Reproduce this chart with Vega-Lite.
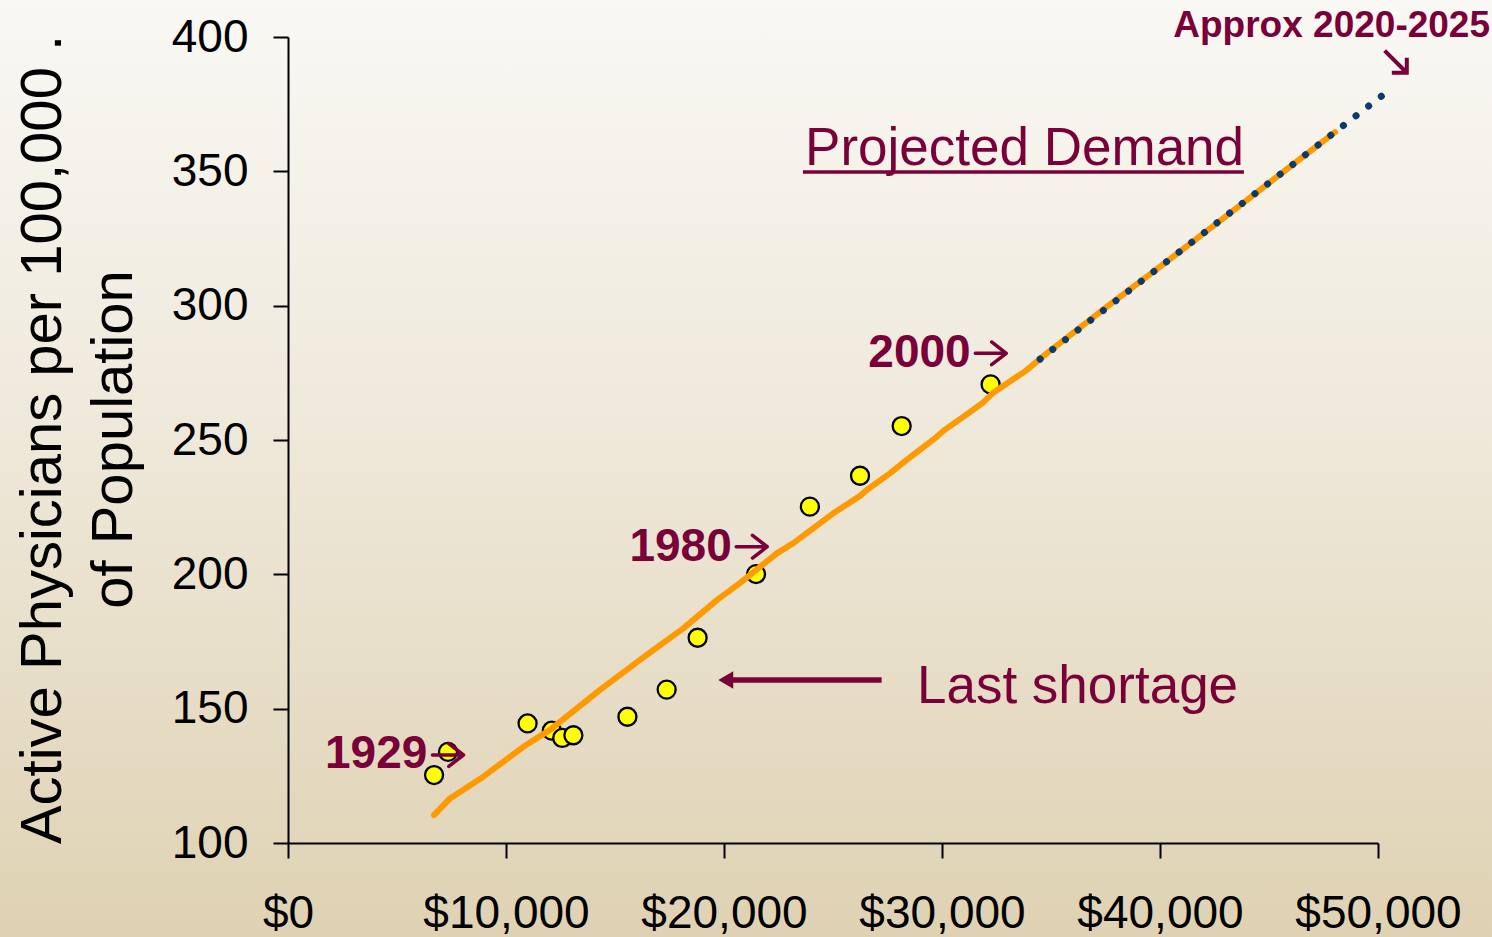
{
  "$schema": "https://vega.github.io/schema/vega-lite/v6.json",
  "width": 1090,
  "height": 806,
  "autosize": {"type": "none"},
  "padding": {"left": 288, "top": 37, "right": 114, "bottom": 94},
  "background": "#EEE8D8",
  "config": {"view": {"stroke": null}, "font": "Liberation Sans"},
  "datasets": {
    "observed": [
      {"x": 6700, "y": 125.3},
      {"x": 7340, "y": 133.9},
      {"x": 10990, "y": 144.5},
      {"x": 12100, "y": 141.8},
      {"x": 12580, "y": 139.1},
      {"x": 13090, "y": 140.1},
      {"x": 15570, "y": 147.0},
      {"x": 17370, "y": 157.1},
      {"x": 18790, "y": 176.4},
      {"x": 21470, "y": 200.1},
      {"x": 23940, "y": 225.2},
      {"x": 26240, "y": 236.7},
      {"x": 28150, "y": 255.2},
      {"x": 32230, "y": 270.7}
    ],
    "trend": [
      {"x": 6697, "y": 110.4},
      {"x": 7431, "y": 116.6},
      {"x": 8960, "y": 124.7},
      {"x": 10794, "y": 135.8},
      {"x": 12018, "y": 142.1},
      {"x": 14312, "y": 157.0},
      {"x": 16454, "y": 170.0},
      {"x": 18133, "y": 179.9},
      {"x": 19700, "y": 190.6},
      {"x": 20730, "y": 196.7},
      {"x": 22420, "y": 207.8},
      {"x": 23180, "y": 211.6},
      {"x": 25010, "y": 222.7},
      {"x": 26240, "y": 229.2},
      {"x": 26550, "y": 231.4},
      {"x": 27610, "y": 237.6},
      {"x": 28380, "y": 242.6},
      {"x": 29760, "y": 251.2},
      {"x": 30060, "y": 253.4},
      {"x": 31130, "y": 259.5},
      {"x": 31890, "y": 264.0},
      {"x": 32350, "y": 267.6},
      {"x": 33880, "y": 276.0},
      {"x": 34950, "y": 283.2},
      {"x": 37600, "y": 299.8},
      {"x": 40310, "y": 316.4},
      {"x": 42600, "y": 330.6},
      {"x": 44890, "y": 345.0},
      {"x": 48030, "y": 364.6}
    ],
    "projection": [
      {"x": 34500, "y": 280.1},
      {"x": 50180, "y": 378.1}
    ],
    "years": [
      {"x": 1697, "y": 127.8, "label": "1929"},
      {"x": 15660, "y": 205.07, "label": "1980"},
      {"x": 26620, "y": 277.3, "label": "2000"}
    ],
    "yearArrows": [
      {"x": 7339, "y": 132.75},
      {"x": 21271, "y": 210.28},
      {"x": 32239, "y": 282.27}
    ]
  },
  "layer": [
    {
      "data": {"values": [{"part": "background"}]},
      "mark": {
        "type": "rect",
        "fill": {
          "gradient": "linear",
          "x1": 0, "y1": 0, "x2": 0, "y2": 1,
          "stops": [
            {"offset": 0, "color": "#F9F8F4"},
            {"offset": 0.45, "color": "#EFE9DB"},
            {"offset": 1, "color": "#DFD2B3"}
          ]
        }
      },
      "encoding": {
        "x": {"datum": -13211, "type": "quantitative", "scale": {"domain": [0, 50000], "nice": false, "zero": false}, "title": null},
        "x2": {"datum": 55229},
        "y": {"datum": 413.8, "type": "quantitative", "scale": {"domain": [100, 400], "nice": false, "zero": false}, "title": ["Active Physicians per 100,000  .", "of Population"]},
        "y2": {"datum": 65.0}
      }
    },
    {
      "data": {"name": "observed"},
      "mark": {"type": "circle", "size": 324, "fill": "#FFFF00", "stroke": "#000000", "strokeWidth": 2.3, "opacity": 1},
      "encoding": {
        "x": {
          "field": "x",
          "type": "quantitative",
          "scale": {"domain": [0, 50000], "nice": false, "zero": false},
          "title": null,
          "axis": {
            "title": null,
            "values": [0, 10000, 20000, 30000, 40000, 50000],
            "format": "$,.0f",
            "grid": false,
            "domainColor": "#000000",
            "domainWidth": 2,
            "tickColor": "#000000",
            "tickWidth": 2,
            "tickSize": 15,
            "labelFont": "Liberation Sans",
            "labelFontSize": 46,
            "labelColor": "#000000",
            "labelPadding": 33,
            "labelFlush": false,
            "labelOverlap": false,
            "zindex": 1
          }
        },
        "y": {
          "field": "y",
          "type": "quantitative",
          "scale": {"domain": [100, 400], "nice": false, "zero": false},
          "title": ["Active Physicians per 100,000  .", "of Population"],
          "axis": {
            "title": ["Active Physicians per 100,000  .", "of Population"],
            "titleFont": "Liberation Sans",
            "titleFontSize": 58,
            "titleFontWeight": "normal",
            "titleColor": "#000000",
            "titleAngle": -90,
            "titleAlign": "center",
            "titleBaseline": "alphabetic",
            "titleLineHeight": 71,
            "titleX": -228,
            "titleY": 402,
            "values": [100, 150, 200, 250, 300, 350, 400],
            "grid": false,
            "domainColor": "#000000",
            "domainWidth": 2,
            "tickColor": "#000000",
            "tickWidth": 2,
            "tickSize": 15,
            "labelFont": "Liberation Sans",
            "labelFontSize": 46,
            "labelColor": "#000000",
            "labelPadding": 25,
            "labelFlush": false,
            "labelOverlap": false,
            "zindex": 1
          }
        }
      }
    },
    {
      "data": {"name": "trend"},
      "mark": {"type": "line", "color": "#FF9900", "strokeWidth": 6, "strokeCap": "round", "strokeJoin": "round"},
      "encoding": {
        "x": {"field": "x", "type": "quantitative", "scale": {"domain": [0, 50000], "nice": false, "zero": false}, "title": null},
        "y": {"field": "y", "type": "quantitative", "scale": {"domain": [100, 400], "nice": false, "zero": false}, "title": ["Active Physicians per 100,000  .", "of Population"]}
      }
    },
    {
      "data": {"name": "projection"},
      "mark": {"type": "line", "color": "#0B3B6B", "strokeWidth": 7, "strokeCap": "round", "strokeDash": [0.1, 15.85]},
      "encoding": {
        "x": {"field": "x", "type": "quantitative", "scale": {"domain": [0, 50000], "nice": false, "zero": false}, "title": null},
        "y": {"field": "y", "type": "quantitative", "scale": {"domain": [100, 400], "nice": false, "zero": false}, "title": ["Active Physicians per 100,000  .", "of Population"]}
      }
    },
    {
      "data": {"name": "years"},
      "mark": {"type": "text", "font": "Liberation Sans", "fontSize": 46, "fontWeight": "bold", "color": "#7A0039", "align": "left", "baseline": "alphabetic"},
      "encoding": {
        "x": {"field": "x", "type": "quantitative", "scale": {"domain": [0, 50000], "nice": false, "zero": false}, "title": null},
        "y": {"field": "y", "type": "quantitative", "scale": {"domain": [100, 400], "nice": false, "zero": false}, "title": ["Active Physicians per 100,000  .", "of Population"]},
        "text": {"field": "label"}
      }
    },
    {
      "data": {"name": "yearArrows"},
      "mark": {"type": "point", "shape": "M-1,0L1,0M0.05,-0.73L1,0L0.05,0.73", "size": 961, "filled": false, "stroke": "#7A0039", "strokeWidth": 3.5, "strokeCap": "round", "strokeJoin": "round", "opacity": 1},
      "encoding": {
        "x": {"field": "x", "type": "quantitative", "scale": {"domain": [0, 50000], "nice": false, "zero": false}, "title": null},
        "y": {"field": "y", "type": "quantitative", "scale": {"domain": [100, 400], "nice": false, "zero": false}, "title": ["Active Physicians per 100,000  .", "of Population"]}
      }
    },
    {
      "data": {"values": [{"x": 40610, "y": 400.0, "label": "Approx 2020-2025"}]},
      "mark": {"type": "text", "font": "Liberation Sans", "fontSize": 37, "fontWeight": "bold", "color": "#7A0039", "align": "left", "baseline": "alphabetic"},
      "encoding": {
        "x": {"field": "x", "type": "quantitative", "scale": {"domain": [0, 50000], "nice": false, "zero": false}, "title": null},
        "y": {"field": "y", "type": "quantitative", "scale": {"domain": [100, 400], "nice": false, "zero": false}, "title": ["Active Physicians per 100,000  .", "of Population"]},
        "text": {"field": "label"}
      }
    },
    {
      "data": {"values": [{"x": 50826, "y": 390.7}]},
      "mark": {"type": "point", "shape": "M-0.95,-0.95L0.9,0.9M0.9,-0.35L0.9,0.9L-0.35,0.9", "size": 576, "filled": false, "stroke": "#7A0039", "strokeWidth": 4, "strokeJoin": "miter", "opacity": 1},
      "encoding": {
        "x": {"field": "x", "type": "quantitative", "scale": {"domain": [0, 50000], "nice": false, "zero": false}, "title": null},
        "y": {"field": "y", "type": "quantitative", "scale": {"domain": [100, 400], "nice": false, "zero": false}, "title": ["Active Physicians per 100,000  .", "of Population"]}
      }
    },
    {
      "data": {"values": [{"x": 23720, "y": 352.35, "label": "Projected Demand"}]},
      "mark": {"type": "text", "font": "Liberation Sans", "fontSize": 53, "color": "#7A0039", "align": "left", "baseline": "alphabetic"},
      "encoding": {
        "x": {"field": "x", "type": "quantitative", "scale": {"domain": [0, 50000], "nice": false, "zero": false}, "title": null},
        "y": {"field": "y", "type": "quantitative", "scale": {"domain": [100, 400], "nice": false, "zero": false}, "title": ["Active Physicians per 100,000  .", "of Population"]},
        "text": {"field": "label"}
      }
    },
    {
      "data": {"values": [{"x": 23620, "x2": 43850, "y": 349.75}]},
      "mark": {"type": "rule", "color": "#7A0039", "strokeWidth": 3.5},
      "encoding": {
        "x": {"field": "x", "type": "quantitative", "scale": {"domain": [0, 50000], "nice": false, "zero": false}, "title": null},
        "x2": {"field": "x2"},
        "y": {"field": "y", "type": "quantitative", "scale": {"domain": [100, 400], "nice": false, "zero": false}, "title": ["Active Physicians per 100,000  .", "of Population"]}
      }
    },
    {
      "data": {"values": [{"x": 28850, "y": 152.0, "label": "Last shortage"}]},
      "mark": {"type": "text", "font": "Liberation Sans", "fontSize": 53, "color": "#7A0039", "align": "left", "baseline": "alphabetic"},
      "encoding": {
        "x": {"field": "x", "type": "quantitative", "scale": {"domain": [0, 50000], "nice": false, "zero": false}, "title": null},
        "y": {"field": "y", "type": "quantitative", "scale": {"domain": [100, 400], "nice": false, "zero": false}, "title": ["Active Physicians per 100,000  .", "of Population"]},
        "text": {"field": "label"}
      }
    },
    {
      "data": {"values": [{"x": 27230, "x2": 20400, "y": 160.67}]},
      "mark": {"type": "rule", "color": "#7A0039", "strokeWidth": 5.5},
      "encoding": {
        "x": {"field": "x", "type": "quantitative", "scale": {"domain": [0, 50000], "nice": false, "zero": false}, "title": null},
        "x2": {"field": "x2"},
        "y": {"field": "y", "type": "quantitative", "scale": {"domain": [100, 400], "nice": false, "zero": false}, "title": ["Active Physicians per 100,000  .", "of Population"]}
      }
    },
    {
      "data": {"values": [{"x": 20080, "y": 160.67}]},
      "mark": {"type": "point", "shape": "triangle-left", "size": 300, "filled": true, "color": "#7A0039", "opacity": 1},
      "encoding": {
        "x": {"field": "x", "type": "quantitative", "scale": {"domain": [0, 50000], "nice": false, "zero": false}, "title": null},
        "y": {"field": "y", "type": "quantitative", "scale": {"domain": [100, 400], "nice": false, "zero": false}, "title": ["Active Physicians per 100,000  .", "of Population"]}
      }
    }
  ]
}
